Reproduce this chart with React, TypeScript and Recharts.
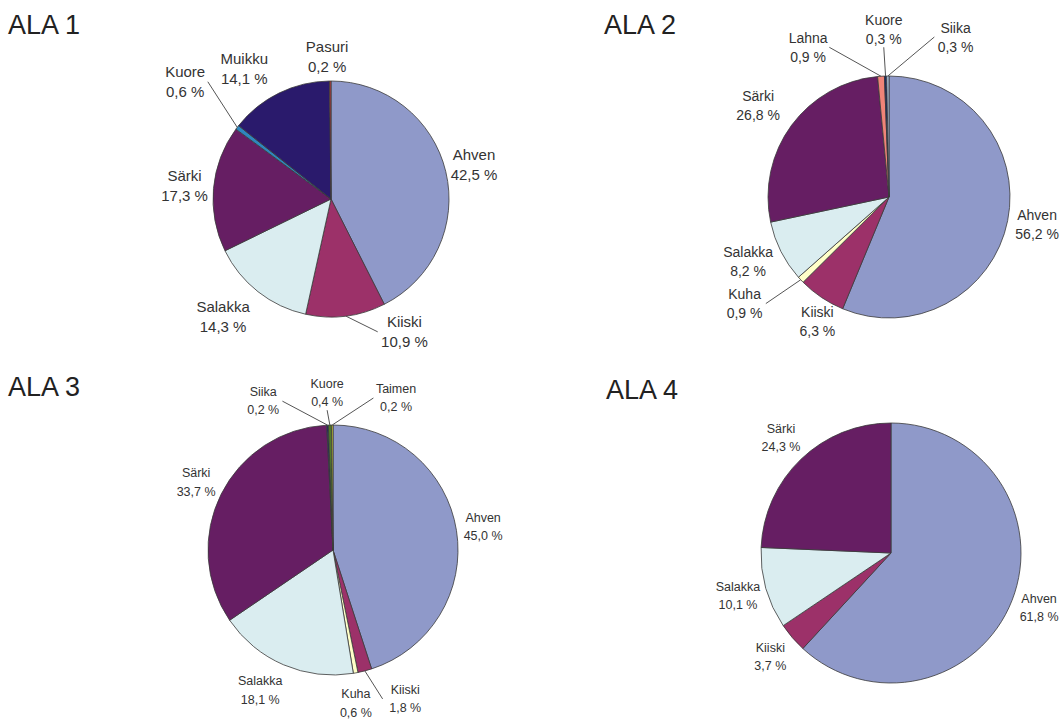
import { PieChart, Pie, Cell } from "recharts";

// Saalisosuudet (%) alueittain, myötäpäivään klo 12:sta alkaen
const ala1Lajit = ["Ahven", "Kiiski", "Salakka", "Särki", "Kuore", "Muikku", "Pasuri"];
const ala1Osuus = [42.5, 10.9, 14.3, 17.3, 0.6, 14.1, 0.2];

const ala2Lajit = ["Ahven", "Kiiski", "Kuha", "Salakka", "Särki", "Lahna", "Kuore", "Siika"];
const ala2Osuus = [56.2, 6.3, 0.9, 8.2, 26.8, 0.9, 0.3, 0.3];

const ala3Lajit = ["Ahven", "Kiiski", "Kuha", "Salakka", "Särki", "Siika", "Kuore", "Taimen"];
const ala3Osuus = [45.0, 1.8, 0.6, 18.1, 33.7, 0.2, 0.4, 0.2];

const ala4Lajit = ["Ahven", "Kiiski", "Salakka", "Särki"];
const ala4Osuus = [61.8, 3.7, 10.1, 24.3];

const AHVEN = "#8F99C9";
const KIISKI = "#9C3169";
const SALAKKA = "#DAEDF0";
const SARKI = "#661E63";
const KUHA = "#FFFFC8";

const ala1Varit = [AHVEN, KIISKI, SALAKKA, SARKI, "#2F86BE", "#2A1A6C", "#C83C3C"];
const ala2Varit = [AHVEN, KIISKI, KUHA, SALAKKA, SARKI, "#F08478", "#1E2A60", "#B4CCE8"];
const ala3Varit = [AHVEN, KIISKI, KUHA, SALAKKA, SARKI, "#1F2A6E", "#4E7A2A", "#D8D838"];
const ala4Varit = [AHVEN, KIISKI, SALAKKA, SARKI];

const taulu = (lajit: string[], osuus: number[]) =>
  lajit.map((laji, i) => ({ laji, osuus: osuus[i] }));

type Siirto = { dx: number; dy: number; viiva?: boolean };

const RADIAN = Math.PI / 180;
const FONTTI = "'Liberation Sans', Arial, sans-serif";

// Excel-tyyliset nimiöt: nimi + prosentti, pienille sektoreille ohjausviiva
function nimio(fs: number, rivi: number, siirrot: Record<string, Siirto>) {
  return (props: any) => {
    const { cx, cy, midAngle, outerRadius, payload } = props;
    const laji: string = payload.laji;
    const arvo: number = payload.osuus;
    const cos = Math.cos(-midAngle * RADIAN);
    const sin = Math.sin(-midAngle * RADIAN);
    const R = outerRadius + 29;
    const s = siirrot[laji] ?? { dx: 0, dy: 0 };
    const lx = cx + R * cos + s.dx;
    const ly = cy + R * sin + s.dy;
    const teksti = arvo.toFixed(1).replace(".", ",") + " %";
    const puoliW = (Math.max(laji.length, teksti.length) * fs * 0.55) / 2;
    const puoliH = rivi / 2 + fs * 0.55;
    let viiva = null;
    if (s.viiva) {
      const ax = cx + outerRadius * cos;
      const ay = cy + outerRadius * sin;
      let ex = lx;
      let ey = ly;
      if (Math.abs(ax - lx) > puoliW) {
        ex = lx + Math.sign(ax - lx) * (puoliW + 2);
      } else {
        ey = ly + Math.sign(ay - ly) * (puoliH + 1);
      }
      viiva = <line x1={ax} y1={ay} x2={ex} y2={ey} stroke="#555" strokeWidth={1} />;
    }
    return (
      <g>
        {viiva}
        <text textAnchor="middle" fontSize={fs} fontFamily={FONTTI} fill="#333">
          <tspan x={lx} y={ly - rivi / 2} dominantBaseline="central">{laji}</tspan>
          <tspan x={lx} y={ly + rivi / 2} dominantBaseline="central">{teksti}</tspan>
        </text>
      </g>
    );
  };
}

const ala1Siirrot: Record<string, Siirto> = {
  Kiiski: { dx: 55, dy: -13, viiva: true },
  Salakka: { dx: -17, dy: 2 },
  Kuore: { dx: -29, dy: -28, viiva: true },
  Muikku: { dx: -22, dy: 1 },
  Pasuri: { dx: -3, dy: 4 },
};
const ala2Siirrot: Record<string, Siirto> = {
  Ahven: { dx: 1, dy: -2 },
  Kiiski: { dx: 12, dy: 0 },
  Kuha: { dx: -35, dy: 4, viiva: true },
  Salakka: { dx: -7, dy: -3 },
  Särki: { dx: -10, dy: -3 },
  Lahna: { dx: -71, dy: 0, viiva: true },
  Kuore: { dx: -1, dy: -18, viiva: true },
  Siika: { dx: 68, dy: -10, viiva: true },
};
const ala3Siirrot: Record<string, Siirto> = {
  Ahven: { dx: -2, dy: 1 },
  Kiiski: { dx: 33, dy: 0, viiva: true },
  Kuha: { dx: -5, dy: 2 },
  Salakka: { dx: -12, dy: -1 },
  Särki: { dx: 1, dy: 1 },
  Siika: { dx: -63, dy: 5, viiva: true },
  Kuore: { dx: -2, dy: -3, viiva: true },
  Taimen: { dx: 64, dy: 2, viiva: true },
};
const ala4Siirrot: Record<string, Siirto> = {
  Ahven: { dx: 0, dy: -3 },
};

const otsikot = [
  { teksti: "ALA 1", x: 8, y: 34 },
  { teksti: "ALA 2", x: 604, y: 34 },
  { teksti: "ALA 3", x: 8, y: 396 },
  { teksti: "ALA 4", x: 606, y: 399 },
];

const kaaviot = [
  { data: taulu(ala1Lajit, ala1Osuus), varit: ala1Varit, cx: 331, cy: 199, r: 118, fs: 15, rivi: 20, siirrot: ala1Siirrot },
  { data: taulu(ala2Lajit, ala2Osuus), varit: ala2Varit, cx: 889, cy: 197, r: 121, fs: 14, rivi: 19, siirrot: ala2Siirrot },
  { data: taulu(ala3Lajit, ala3Osuus), varit: ala3Varit, cx: 333, cy: 550, r: 125, fs: 12.5, rivi: 18.5, siirrot: ala3Siirrot },
  { data: taulu(ala4Lajit, ala4Osuus), varit: ala4Varit, cx: 891, cy: 553, r: 130, fs: 12.5, rivi: 18, siirrot: ala4Siirrot },
];

export default function App() {
  return (
    <div style={{ position: "absolute", left: 0, top: 0, width: 1060, height: 720, background: "#fff" }}>
      <PieChart width={1060} height={720} margin={{ top: 0, right: 0, bottom: 0, left: 0 }}>
        {kaaviot.map((k, i) => (
          <Pie
            key={i}
            data={k.data}
            dataKey="osuus"
            nameKey="laji"
            cx={k.cx}
            cy={k.cy}
            outerRadius={k.r}
            startAngle={90}
            endAngle={-270}
            stroke="#3a3a3a"
            strokeWidth={0.8}
            label={nimio(k.fs, k.rivi, k.siirrot)}
            labelLine={false}
            isAnimationActive={false}
          >
            {k.data.map((d, j) => (
              <Cell key={d.laji} fill={k.varit[j]} />
            ))}
          </Pie>
        ))}
      </PieChart>
      <svg width={1060} height={720} style={{ position: "absolute", left: 0, top: 0, pointerEvents: "none" }}>
        {otsikot.map((o) => (
          <text key={o.teksti} x={o.x} y={o.y} fontSize={27} fontFamily={FONTTI} fill="#222">
            {o.teksti}
          </text>
        ))}
      </svg>
    </div>
  );
}
